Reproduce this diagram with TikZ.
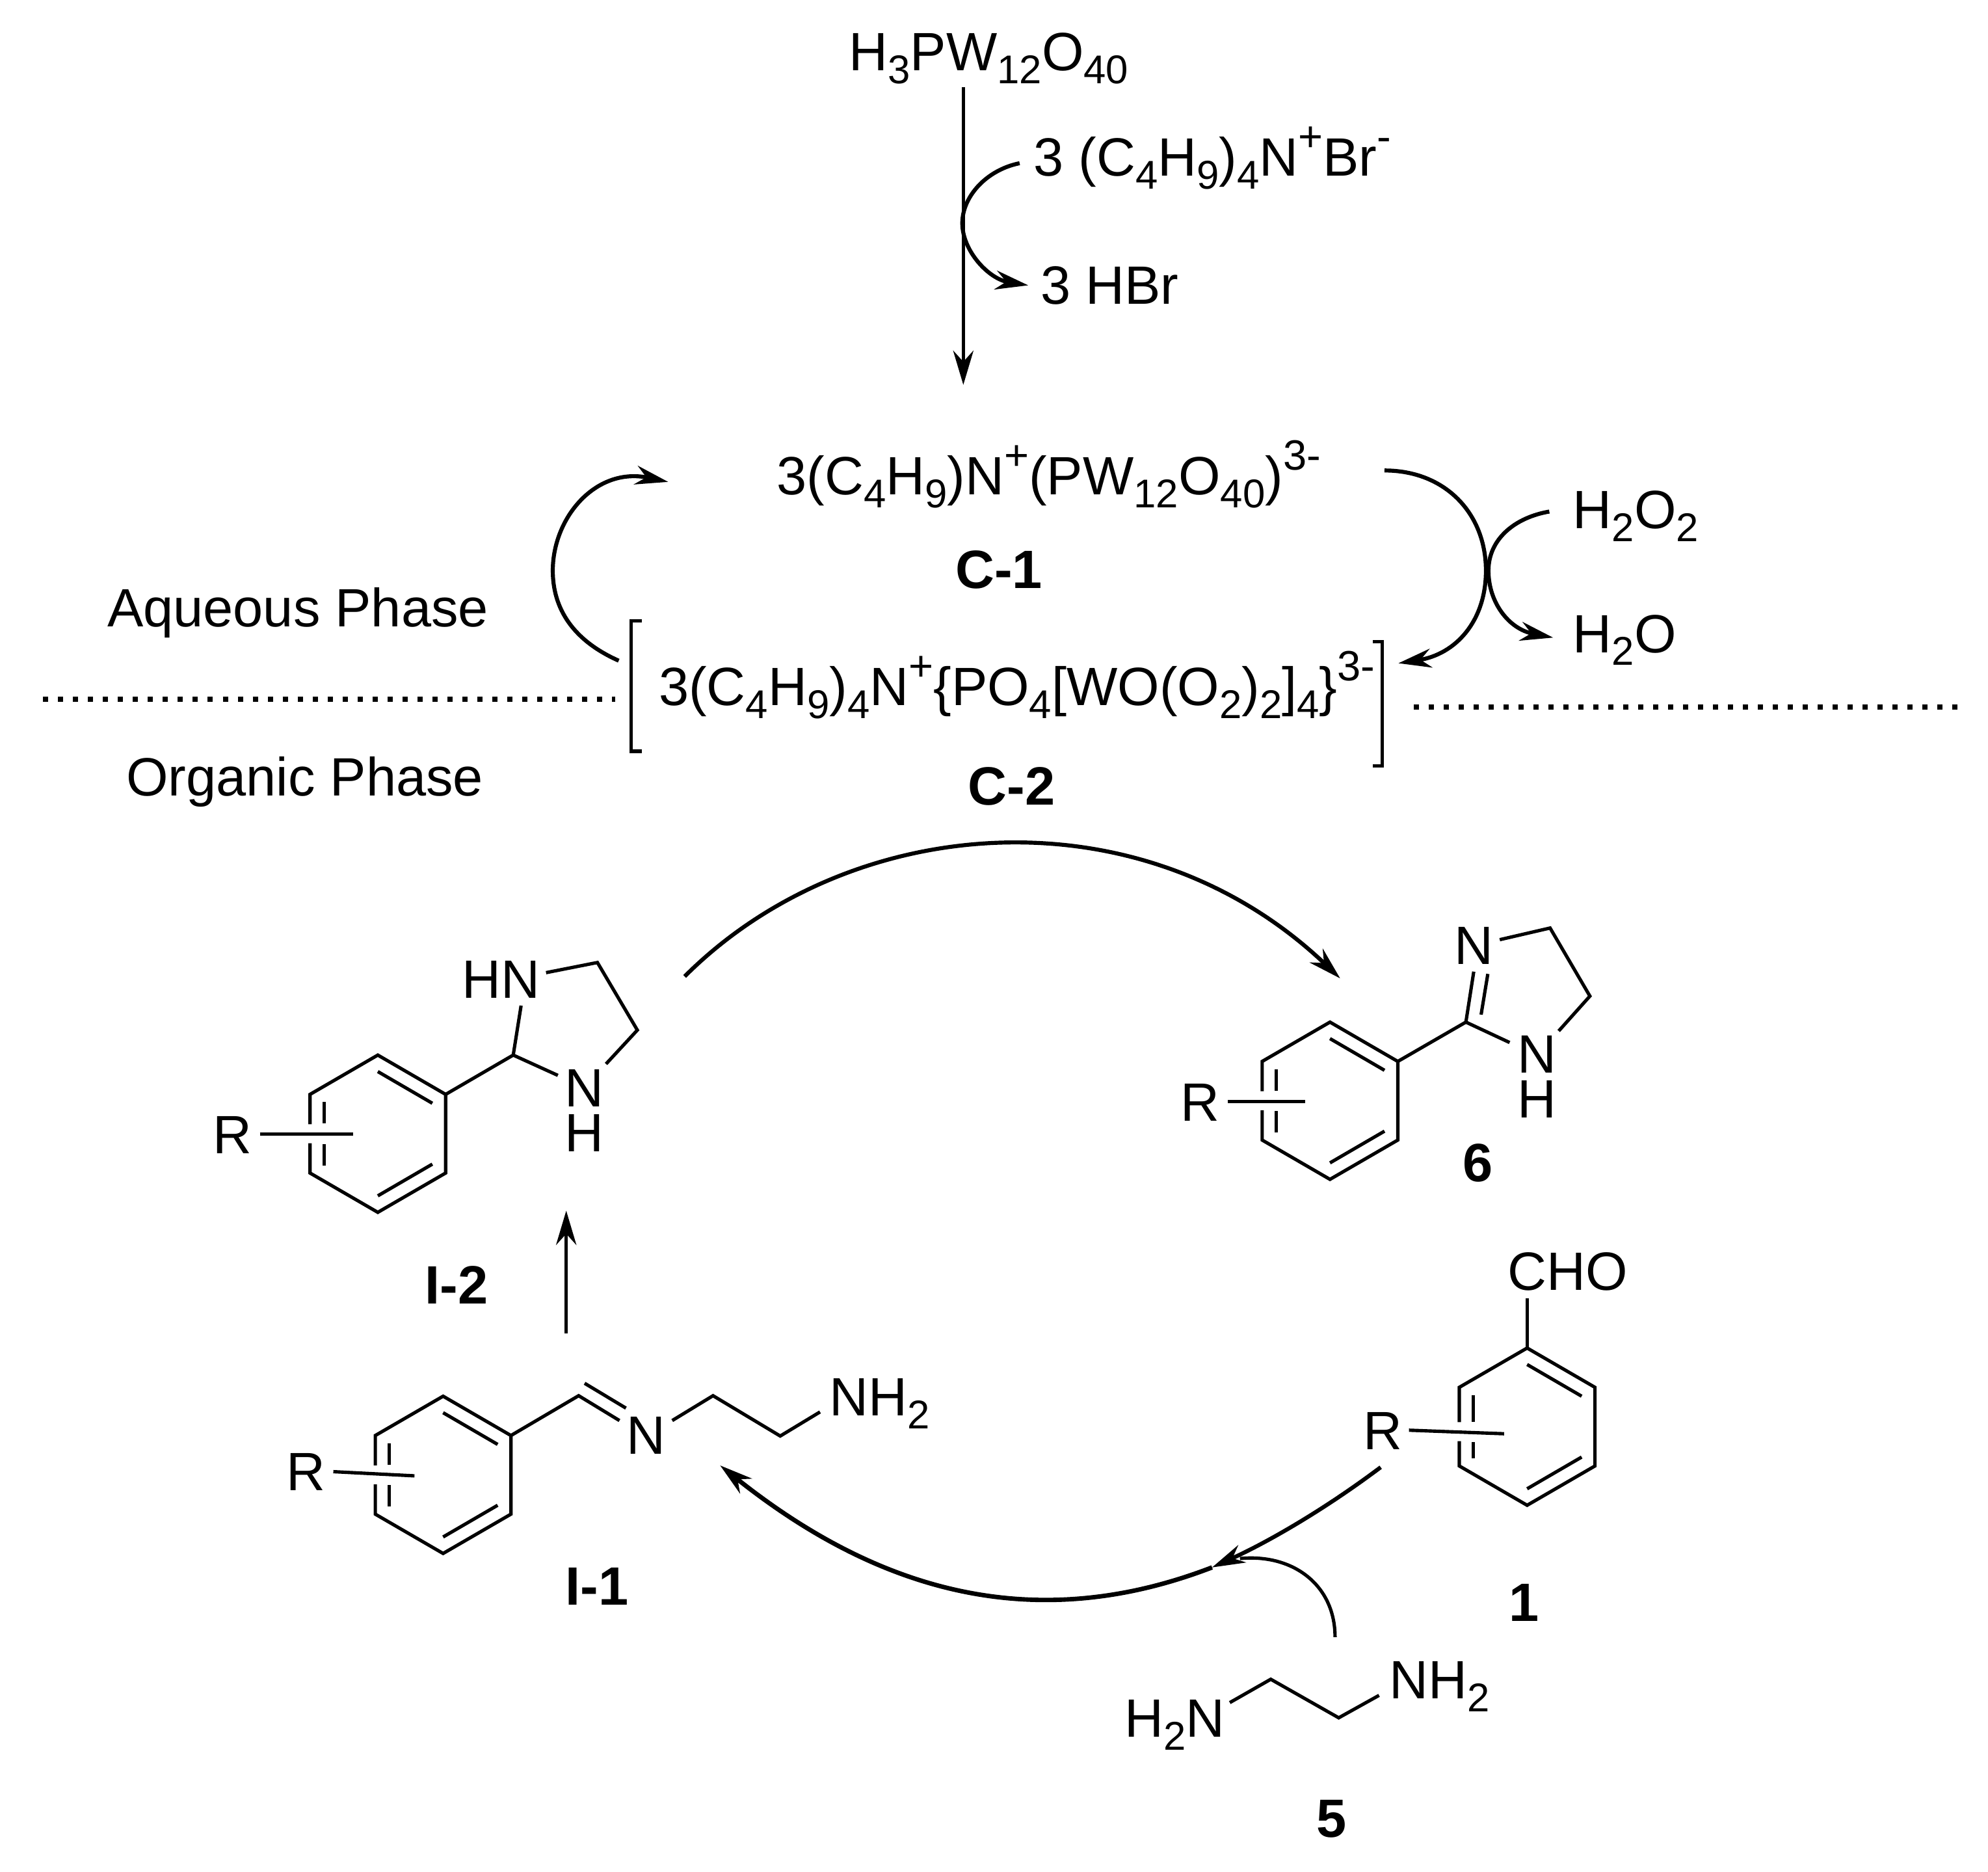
\documentclass[tikz,border=0pt]{standalone}
\usepackage{fontspec}
\setmainfont{Liberation Sans}
\usetikzlibrary{arrows.meta}
\newcommand{\lowr}[1]{\raisebox{-.24em}{\fontsize{9}{10}\selectfont #1}}
\newcommand{\uppr}[1]{\raisebox{.46em}{\fontsize{9.5}{10}\selectfont #1}}

\begin{document}
\begin{tikzpicture}
[x=.01cm,y=-.01cm,
every node/.style={inner sep=0,font=\fontsize{12.1}{14}\selectfont},
lbl/.style={anchor=base west},
atom/.style={anchor=base},
stack/.style={anchor=center,align=center,font=\fontsize{12.1}{10}\selectfont},
tag/.style={anchor=base,font=\fontsize{12.1}{14}\selectfont\bfseries},
bond/.style={line width=.75pt},
rxn/.style={line width=.9pt,-{Stealth[length=.26cm,width=.15cm]}},
longrxn/.style={line width=.8pt,-{Stealth[length=.27cm,width=.16cm]}},
phase/.style={line width=1.15pt,dash pattern=on .041cm off .077cm},
pics/phenyl/.style={code={
\draw[bond] (-53.5,{#1-7.5}) -- (-53.5,-31) -- (0,-62) -- (53.5,-31) -- (53.5,31) -- (0,62) -- (-53.5,31) -- (-53.5,{#1+7.5});
\draw[bond] (0,-49) -- (43,-24);
\draw[bond] (0,49) -- (43,24);
\draw[bond] (-42.5,-25) -- (-42.5,{#1-8});
\draw[bond] (-42.5,25) -- (-42.5,{#1+8});
}}]
\useasboundingbox (0,0) rectangle (1568,1476);

\node[lbl] (acid) at (669,55.5) {H\lowr{3}PW\lowr{12}O\lowr{40}};
\node[lbl] (tba) at (814.5,139) {3 (C\lowr{4}H\lowr{9})\lowr{4}N\uppr{+}Br\uppr{-}};
\node[lbl] (hbr) at (820,239.6) {3 HBr};
\coordinate (acidfoot) at (759.8,68.6);
\coordinate (acidtip) at (759.8,303.5);
\coordinate (tbafoot) at (804.2,128.7);
\coordinate (hbrtip) at (811,225);
\draw[longrxn] (acidfoot) -- (acidtip);
\draw[rxn] (tbafoot) .. controls (778,134) and (759,155) .. (759,176) .. controls (759,198) and (780,220) .. (hbrtip);

\node[lbl] (cato) at (612,390) {3(C\lowr{4}H\lowr{9})N\uppr{+}(PW\lowr{12}O\lowr{40})\uppr{3-}};
\node[tag] (cone) at (788,464) {C-1};
\node[lbl] (catp) at (519,556.5) {3(C\lowr{4}H\lowr{9})\lowr{4}N\uppr{+}\{PO\lowr{4}[WO(O\lowr{2})\lowr{2}]\lowr{4}\}\uppr{3-}};
\node[tag] (ctwo) at (798,634.6) {C-2};
\node[lbl] (perox) at (1240,417) {H\lowr{2}O\lowr{2}};
\node[lbl] (water) at (1240,514.5) {H\lowr{2}O};
\node[lbl] (aqua) at (84,494) {Aqueous Phase};
\node[lbl] (orga) at (99,627.5) {Organic Phase};

\coordinate (catpout) at (488,521);
\coordinate (catotip) at (527,380);
\coordinate (catoout) at (1092,371);
\coordinate (catptip) at (1103,523);
\coordinate (peroxout) at (1222,403.4);
\coordinate (watertip) at (1225,502.8);
\draw[rxn] (catpout) .. controls (452,505) and (436,480) .. (436,450) .. controls (436,408) and (470,368) .. (catotip);
\draw[rxn] (catoout) .. controls (1140,371) and (1172,405) .. (1172,450) .. controls (1172,490) and (1148,516) .. (catptip);
\draw[rxn] (peroxout) .. controls (1195,408) and (1174,425) .. (1174,450) .. controls (1174,475) and (1190,496) .. (watertip);

\draw[bond] (506,489.6) -- (498,489.6) -- (498,592.4) -- (506,592.4);
\draw[bond] (1083,505.8) -- (1090,505.8) -- (1090,603.8) -- (1083,603.8);
\coordinate (leftphasea) at (34,551.4);
\coordinate (leftphaseb) at (485,551.4);
\coordinate (rightphasea) at (1115,557.5);
\coordinate (rightphaseb) at (1545,557.5);
\draw[phase] (leftphasea) -- (leftphaseb);
\draw[phase] (rightphasea) -- (rightphaseb);

\pic at (298,894) {phenyl=0};
\node[atom] (rtwo) at (183.4,909.6) {R};
\node[atom] (hntwo) at (395.4,787.2) {HN};
\node[stack] (nhtwo) at (460.8,875.7) {N\\H};
\node[tag] (itwo) at (360,1028) {I-2};
\draw[bond] (205,894.5) -- (278.4,894.5);
\draw[bond] (351.5,863) -- (404.8,832) -- (411,793);
\draw[bond] (404.8,832) -- (440,848);
\draw[bond] (430.7,767) -- (471.2,759) -- (502.7,812.3) -- (478,839);

\pic at (1049,868) {phenyl=0};
\node[atom] (rsix) at (946.8,883.9) {R};
\node[atom] (nsix) at (1162.4,760.2) {N};
\node[stack] (nhsix) at (1212.2,849) {N\\H};
\node[tag] (six) at (1165.8,931.5) {6};
\draw[bond] (968.3,868.8) -- (1029.2,868.8);
\draw[bond] (1102.5,837) -- (1156.2,806) -- (1162.4,766.2);
\draw[bond] (1168.2,800.1) -- (1173.5,768);
\draw[bond] (1156.2,806) -- (1190.7,822.1);
\draw[bond] (1182.9,741) -- (1222.6,731.8) -- (1254,785.5) -- (1229.4,813);

\coordinate (imidfoot) at (540,770);
\coordinate (imidtip) at (1057,771.5);
\draw[rxn] (imidfoot) .. controls (670,640) and (900,622) .. (imidtip);

\pic at (349.5,1163) {phenyl=0};
\node[atom] (rone) at (241.3,1175.6) {R};
\node[atom] (none) at (509.4,1146.7) {N};
\node[lbl] (nhone) at (653.5,1116.3) {NH\lowr{2}};
\node[tag] (ione) at (471,1265.5) {I-1};
\draw[bond] (262.9,1160.5) -- (326.9,1163.8);
\draw[bond] (403,1132) -- (456.4,1100.6) -- (488.6,1120.2);
\draw[bond] (461.1,1090.8) -- (493.7,1110.4);
\draw[bond] (530.2,1120.2) -- (562.4,1100.6) -- (615.4,1132.4) -- (646.8,1113.4);

\coordinate (ionefoot) at (446.6,1051.5);
\coordinate (ionetip) at (446.6,954.7);
\draw[longrxn] (ionefoot) -- (ionetip);

\pic at (1204.5,1125) {phenyl=4};
\node[atom] (rald) at (1090.7,1143.3) {R};
\node[atom] (cho) at (1236.4,1017.3) {CHO};
\node[tag] (ald) at (1202,1278.5) {1};
\draw[bond] (1111.3,1127.8) -- (1186.3,1130.6);
\draw[bond] (1204.5,1063) -- (1204.5,1023.7);

\node[lbl] (ntwoa) at (886.5,1370) {H\lowr{2}N};
\node[lbl] (ntwob) at (1095,1339.4) {NH\lowr{2}};
\node[tag] (five) at (1050,1449) {5};
\draw[bond] (970,1342.6) -- (1002.3,1324.2) -- (1055.9,1354.6) -- (1087.7,1336.9);

\coordinate (aldfoot) at (1089,1157);
\coordinate (meet) at (956,1236);
\coordinate (dafoot) at (1053,1291);
\coordinate (ionein) at (568,1155.6);
\draw[rxn] (aldfoot) .. controls (1042.75,1191.75) and (998,1217) .. (meet);
\draw[rxn,line width=1pt] (meet) .. controls (823,1287.2) and (700,1260.9) .. (ionein);
\draw[bond] (dafoot) .. controls (1053,1250) and (1020,1225) .. (978,1229);
\end{tikzpicture}
\end{document}
